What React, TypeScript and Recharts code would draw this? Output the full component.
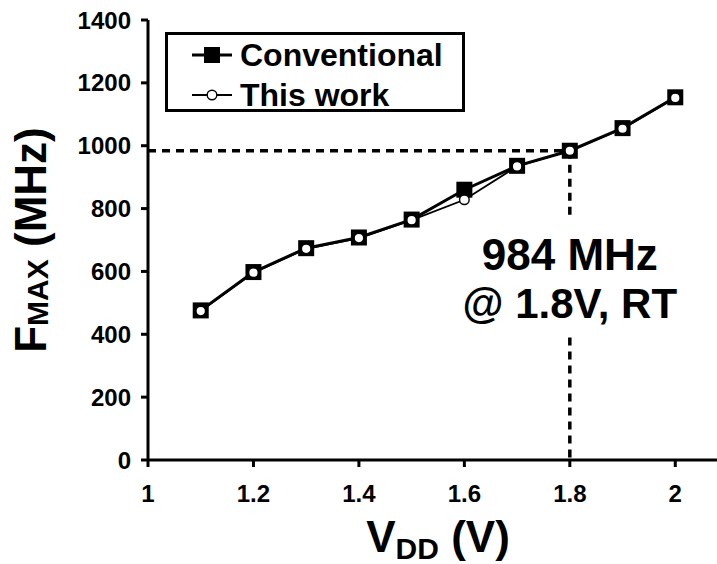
import React from "react";
import {
    LineChart,
    Line,
    XAxis,
    YAxis,
    ReferenceLine,
    ReferenceDot,
    Legend,
} from "recharts";

const FONT = "'Liberation Sans', Arial, sans-serif";

const vdd = [1.1, 1.2, 1.3, 1.4, 1.5, 1.6, 1.7, 1.8, 1.9, 2.0];
const conventional = [476, 598, 674, 708, 765, 860, 936, 984, 1056, 1154];
const thisWork = [474, 596, 672, 706, 763, 828, 934, 984, 1054, 1152];

const xTicks = [1, 1.2, 1.4, 1.6, 1.8, 2];
const yTicks = [0, 200, 400, 600, 800, 1000, 1200, 1400];

const markV = 1.8;
const markF = 984;

const data = vdd.map((v, i) => ({ v, conv: conventional[i], mine: thisWork[i] }));

const SquareDot = (props: any) => {
    const { cx, cy } = props;
    if (cx == null || cy == null) return null;
    return <rect x={cx - 8} y={cy - 8} width={16} height={16} fill="#000" />;
};

const CircleDot = (props: any) => {
    const { cx, cy } = props;
    if (cx == null || cy == null) return null;
    return <circle cx={cx} cy={cy} r={4.8} fill="#fff" stroke="#000" strokeWidth={1.4} />;
};

const tickStyle = { fontFamily: FONT, fontWeight: 700, fontSize: 24, fill: "#000" };

function LegendBox() {
    const row = (filled: boolean, text: string) => (
        <div style={{ display: "flex", alignItems: "center", height: 40 }}>
            <svg width={44} height={20} style={{ marginLeft: 22, marginRight: 6 }}>
                <line x1={2} y1={10} x2={42} y2={10} stroke="#000" strokeWidth={filled ? 3 : 2} />
                {filled ? (
                    <rect x={14} y={2} width={16} height={16} fill="#000" />
                ) : (
                    <circle cx={22} cy={10} r={4.8} fill="#fff" stroke="#000" strokeWidth={1.4} />
                )}
            </svg>
            <span style={{ fontFamily: FONT, fontWeight: 700, fontSize: 32, color: "#000" }}>{text}</span>
        </div>
    );
    return (
        <div
            style={{
                boxSizing: "border-box",
                width: 300,
                height: 80,
                border: "3px solid #000",
                background: "#fff",
            }}
        >
            {row(true, "Conventional")}
            {row(false, "This work")}
        </div>
    );
}

export default function App() {
    return (
        <div
            style={{
                position: "absolute",
                left: 0,
                top: 0,
                width: 717,
                height: 564,
                overflow: "hidden",
                background: "#fff",
            }}
        >
            <LineChart
                width={760}
                height={564}
                data={data}
                margin={{ top: 20, right: 32, bottom: 0, left: 0 }}
            >
                <XAxis
                    dataKey="v"
                    type="number"
                    domain={[1, 2.1]}
                    ticks={xTicks}
                    allowDataOverflow
                    height={104}
                    axisLine={{ stroke: "#000", strokeWidth: 3 }}
                    tickLine={{ stroke: "#000", strokeWidth: 3 }}
                    tickSize={7}
                    tickMargin={18}
                    tick={tickStyle}
                    label={{
                        content: () => (
                            <text
                                x={438}
                                y={552}
                                textAnchor="middle"
                                fontFamily={FONT}
                                fontWeight={700}
                                fontSize={44}
                                fill="#000"
                            >
                                V
                                <tspan fontSize={30} dy={7}>DD</tspan>
                                <tspan dy={-7}> (V)</tspan>
                            </text>
                        ),
                    }}
                />
                <XAxis
                    xAxisId="top"
                    orientation="top"
                    type="number"
                    domain={[1, 2.1]}
                    height={0}
                    tick={false}
                    tickLine={false}
                    axisLine={{ stroke: "#000", strokeWidth: 3 }}
                />
                <YAxis
                    type="number"
                    domain={[0, 1400]}
                    ticks={yTicks}
                    width={148}
                    axisLine={{ stroke: "#000", strokeWidth: 3 }}
                    tickLine={{ stroke: "#000", strokeWidth: 3 }}
                    tickSize={7}
                    tickMargin={10}
                    tick={tickStyle}
                    label={{
                        content: () => (
                            <text
                                x={46}
                                y={240}
                                transform="rotate(-90, 46, 240)"
                                textAnchor="middle"
                                fontFamily={FONT}
                                fontWeight={700}
                                fontSize={44}
                                fill="#000"
                            >
                                F
                                <tspan fontSize={30} dy={2}>MAX</tspan>
                                <tspan dy={-2}> (MHz)</tspan>
                            </text>
                        ),
                    }}
                />
                <ReferenceLine
                    segment={[{ x: 1, y: markF }, { x: markV, y: markF }]}
                    stroke="#000"
                    strokeWidth={3.5}
                    strokeDasharray="8 6"
                />
                <ReferenceLine
                    segment={[{ x: markV, y: markF }, { x: markV, y: 770 }]}
                    stroke="#000"
                    strokeWidth={3.5}
                    strokeDasharray="8 6"
                />
                <ReferenceLine
                    segment={[{ x: markV, y: 390 }, { x: markV, y: 0 }]}
                    stroke="#000"
                    strokeWidth={3.5}
                    strokeDasharray="8 6"
                />
                <ReferenceDot
                    x={markV}
                    y={604}
                    r={1}
                    fill="none"
                    stroke="none"
                    label={{
                        content: (p: any) => (
                            <text
                                x={p.viewBox.x + 1}
                                y={p.viewBox.y + 1}
                                textAnchor="middle"
                                fontFamily={FONT}
                                fontWeight={700}
                                fontSize={44}
                                fill="#000"
                            >
                                {`${markF} MHz`}
                            </text>
                        ),
                    }}
                />
                <ReferenceDot
                    x={markV}
                    y={452}
                    r={1}
                    fill="none"
                    stroke="none"
                    label={{
                        content: (p: any) => (
                            <text
                                x={p.viewBox.x + 1}
                                y={p.viewBox.y + 1}
                                textAnchor="middle"
                                fontFamily={FONT}
                                fontWeight={700}
                                fontSize={42}
                                fill="#000"
                            >
                                {`@ ${markV}V, RT`}
                            </text>
                        ),
                    }}
                />
                <Line
                    dataKey="conv"
                    name="Conventional"
                    stroke="#000"
                    strokeWidth={3}
                    dot={<SquareDot />}
                    activeDot={false}
                    isAnimationActive={false}
                />
                <Line
                    dataKey="mine"
                    name="This work"
                    stroke="#000"
                    strokeWidth={1.8}
                    dot={<CircleDot />}
                    activeDot={false}
                    isAnimationActive={false}
                />
                <Legend
                    layout="horizontal"
                    verticalAlign="middle"
                    align="center"
                    wrapperStyle={{ left: 165, top: 32, width: 300, height: 80 }}
                    content={() => <LegendBox />}
                />
            </LineChart>
        </div>
    );
}
